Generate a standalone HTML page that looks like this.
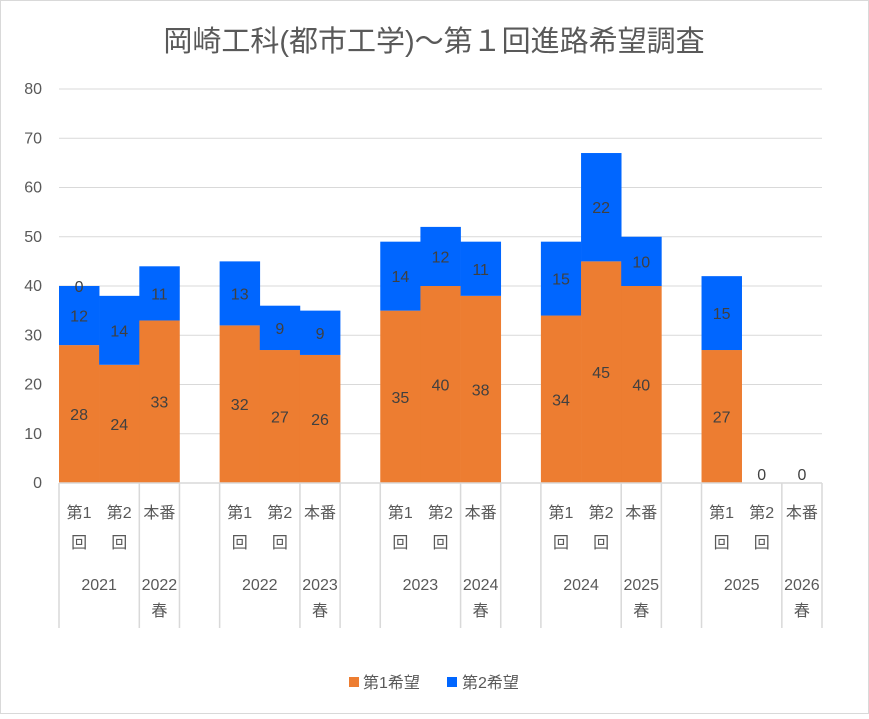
<!DOCTYPE html>
<html><head><meta charset="utf-8"><style>
body{margin:0;background:#fff;}
#wrap{width:869px;height:714px;position:relative;font-family:"Liberation Sans","Noto Sans CJK JP",sans-serif;}
</style></head><body>
<div id="wrap">
<svg id="chart" width="869" height="714" xmlns="http://www.w3.org/2000/svg" style="font-family:'Liberation Sans','Noto Sans CJK JP',sans-serif">
<rect x="0.5" y="0.5" width="868" height="713" fill="#fff" stroke="#d9d9d9"/>
<text x="434" y="51" text-anchor="middle" font-size="29" fill="#595959">岡崎工科(都市工学)～第１回進路希望調査</text>
<g id="grid"></g><g id="bars"></g><g id="labels"></g><g id="axis"></g>
<g>
<rect x="349" y="677" width="10" height="10" fill="#ED7D31"/>
<text x="363" y="688" font-size="16" fill="#595959">第1希望</text>
<rect x="447" y="677" width="10" height="10" fill="#0066FF"/>
<text x="462" y="688" font-size="16" fill="#595959">第2希望</text>
</g>
</svg></div>
<script>
const categories=["第1回","第2回","本番","","第1回","第2回","本番","","第1回","第2回","本番","","第1回","第2回","本番","","第1回","第2回","本番"];
const groupLabels=["2021","2022春","2022","2023春","2023","2024春","2024","2025春","2025","2026春"];
const firstChoice=[28,24,33,null,32,27,26,null,35,40,38,null,34,45,40,null,27,0,0];
const secondChoice=[12,14,11,null,13,9,9,null,14,12,11,null,15,22,10,null,15,null,null];
const yTicks=[0,10,20,30,40,50,60,70,80];
const NS="http://www.w3.org/2000/svg";
const X0=59,X1=822,Y0=483,Y80=89,slot=(X1-X0)/categories.length;
const FS=16;
const yS=v=>Y0-(v/80)*(Y0-Y80);
const xS=i=>X0+i*slot;
function mk(tag,attrs,parent,txt){const e=document.createElementNS(NS,tag);for(const k in attrs)e.setAttribute(k,attrs[k]);if(txt!==undefined)e.textContent=txt;document.getElementById(parent).appendChild(e);return e;}
yTicks.forEach(t=>{
 if(t>0){const l=mk('line',{x1:X0,x2:X1,y1:yS(t),y2:yS(t),stroke:'#d9d9d9','stroke-width':1},'grid');
 
 }
 const tx=mk('text',{x:42,y:yS(t)+5,'text-anchor':'end','font-size':FS,fill:'#595959'},'axis',t);
 
 
});
categories.forEach((c,i)=>{
 const v1=firstChoice[i],v2=secondChoice[i];
 if(v1===null)return;
 const cx=xS(i)+slot/2;
 if(v1>0){const r=mk('rect',{x:xS(i),y:yS(v1),width:slot+0.3,height:Y0-yS(v1),fill:'#ED7D31'},'bars');
 
 }
 if(v2!==null&&v2>0){const r=mk('rect',{x:xS(i),y:yS(v1+v2),width:slot+0.3,height:yS(v1)-yS(v1+v2),fill:'#0066FF'},'bars');
 
 }
 if(v1>0){const t=mk('text',{x:cx,y:(yS(v1)+Y0)/2+6,'text-anchor':'middle','font-size':FS,fill:'#404040'},'labels',v1);
 
 }
 else{const t=mk('text',{x:cx,y:Y0-3,'text-anchor':'middle','font-size':FS,fill:'#404040'},'labels',v1);
 
 }
 if(v2!==null&&v2>0){const t=mk('text',{x:cx,y:(yS(v1)+yS(v1+v2))/2+6,'text-anchor':'middle','font-size':FS,fill:'#404040'},'labels',v2);
 
 }
 if(i===0){const t=mk('text',{x:cx,y:yS(v1+v2)+6,'text-anchor':'middle','font-size':FS,fill:'#404040'},'labels','0');
 
 }
});
const base=mk('line',{x1:X0,x2:X1,y1:Y0,y2:Y0,stroke:'#d9d9d9','stroke-width':1.5},'axis');


for(let g=0;g<5;g++){
 const s=g*4;
 [s,s+2,s+3].forEach(k=>{const l=mk('line',{x1:xS(k),x2:xS(k),y1:Y0,y2:628,stroke:'#d9d9d9','stroke-width':1.5},'axis');
 
 });
 [0,1,2].forEach(j=>{const i=s+j,cx=xS(i)+slot/2;
  if(categories[i]==="本番"){const t=mk('text',{x:cx,y:518,'text-anchor':'middle','font-size':FS,fill:'#595959'},'axis','本番');
  
  }
  else{const t=mk('text',{x:cx,y:518,'text-anchor':'middle','font-size':FS,fill:'#595959'},'axis',categories[i].slice(0,2));
  
  
  const t2=mk('text',{x:cx,y:548,'text-anchor':'middle','font-size':FS,fill:'#595959'},'axis','回');
  
  }
 });
 const gy=mk('text',{x:xS(s+1),y:590,'text-anchor':'middle','font-size':FS,fill:'#595959'},'axis',groupLabels[g*2]);
 
 
 const lbl=groupLabels[g*2+1];
 const hy=mk('text',{x:xS(s+2)+slot/2,y:590,'text-anchor':'middle','font-size':FS,fill:'#595959'},'axis',lbl.slice(0,4));
 
 
 const hs=mk('text',{x:xS(s+2)+slot/2,y:616,'text-anchor':'middle','font-size':FS,fill:'#595959'},'axis',lbl.slice(4));
 
 
}
</script>
</body></html>
